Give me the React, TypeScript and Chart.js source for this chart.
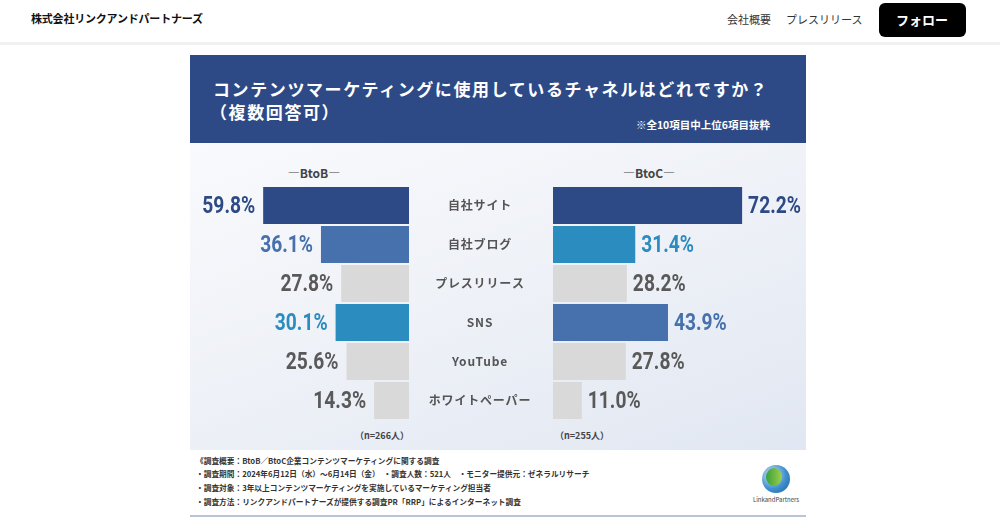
import React, { useEffect, useRef } from "react";
import { Chart, registerables } from "chart.js";
Chart.register(...registerables);

// ---- data ----
const categories = ["自社サイト", "自社ブログ", "プレスリリース", "SNS", "YouTube", "ホワイトペーパー"];
const btobValues = [59.8, 36.1, 27.8, 30.1, 25.6, 14.3];
const btocValues = [72.2, 31.4, 28.2, 43.9, 27.8, 11.0];
const btobSample = "（n=266人）";
const btocSample = "（n=255人）";

// ---- styles ----
const NAVY = "#2e4a86";
const MID = "#4671ac";
const TEAL = "#2b8cbf";
const GRAY = "#d9d9d9";
const DGRAY = "#595959";
const btobColors = [NAVY, MID, GRAY, TEAL, GRAY, GRAY];
const btobText = [NAVY, MID, DGRAY, TEAL, DGRAY, DGRAY];
const btocColors = [NAVY, TEAL, GRAY, MID, GRAY, GRAY];
const btocText = [NAVY, TEAL, DGRAY, MID, DGRAY, DGRAY];
const VALUE_FONT = 'bold 24px Roboto, "DejaVu Sans Condensed", sans-serif';
const VALUE_SQUEEZE = 0.8;
const JP = '"Noto Sans CJK JP", "Noto Sans", sans-serif';

function valueLabels(textColors: string[], side: "left" | "right") {
  return {
    id: "valueLabels",
    afterDatasetsDraw(chart: any) {
      const ctx = chart.ctx;
      const meta = chart.getDatasetMeta(0);
      const data = chart.data.datasets[0].data as number[];
      meta.data.forEach((bar: any, i: number) => {
        const text = data[i].toFixed(1) + "%";
        ctx.save();
        ctx.font = VALUE_FONT;
        ctx.textBaseline = "middle";
        ctx.fillStyle = textColors[i];
        if (side === "left") {
          ctx.translate(bar.x - 8, bar.y + 1);
          ctx.textAlign = "right";
        } else {
          ctx.translate(bar.x + 6, bar.y + 1);
          ctx.textAlign = "left";
        }
        ctx.scale(VALUE_SQUEEZE, 1);
        ctx.fillText(text, 0, 0);
        ctx.restore();
      });
    },
  };
}

const categoryLabels = {
  id: "categoryLabels",
  afterDraw(chart: any) {
    const ctx = chart.ctx;
    const y = chart.scales.y;
    ctx.save();
    ctx.font = `bold 12px ${JP}`;
    (ctx as any).letterSpacing = "0.8px";
    ctx.fillStyle = "#555555";
    ctx.textAlign = "center";
    ctx.textBaseline = "middle";
    categories.forEach((c, i) => {
      ctx.fillText(c, 60, y.getPixelForValue(i));
    });
    ctx.restore();
  },
};

function BarChart(props: {
  values: number[];
  colors: string[];
  textColors: string[];
  side: "left" | "right";
  left: number;
  width: number;
  max: number;
  padLeft: number;
  padRight: number;
}) {
  const ref = useRef<HTMLCanvasElement>(null);
  useEffect(() => {
    if (!ref.current) return;
    const plugins: any[] = [valueLabels(props.textColors, props.side)];
    if (props.side === "right") plugins.push(categoryLabels);
    const chart = new Chart(ref.current, {
      type: "bar",
      data: {
        labels: categories,
        datasets: [
          {
            data: props.values,
            backgroundColor: props.colors,
            borderWidth: 0,
            barPercentage: 0.95,
            categoryPercentage: 1,
          },
        ],
      },
      options: {
        indexAxis: "y",
        animation: false,
        responsive: false,
        maintainAspectRatio: false,
        layout: { padding: { left: props.padLeft, right: props.padRight, top: 10, bottom: 6 } },
        scales: {
          x: { display: false, min: 0, max: props.max, reverse: props.side === "left" },
          y: { display: false },
        },
        plugins: { legend: { display: false }, tooltip: { enabled: false } },
      },
      plugins,
    } as any);
    return () => chart.destroy();
  }, []);
  return (
    <canvas
      ref={ref}
      width={props.width}
      height={250}
      style={{ position: "absolute", left: props.left, top: 176, width: props.width, height: 250 }}
    />
  );
}

function T(p: {
  x: number;
  y: number;
  size: number;
  weight?: number;
  color?: string;
  align?: "left" | "center" | "right";
  ls?: number;
  children: React.ReactNode;
}) {
  const align = p.align || "left";
  const tx = align === "center" ? "-50%" : align === "right" ? "-100%" : "0";
  return (
    <div
      style={{
        position: "absolute",
        left: p.x,
        top: p.y,
        transform: `translate(${tx}, -50%)`,
        fontSize: p.size,
        fontWeight: p.weight ?? 400,
        color: p.color ?? "#222",
        letterSpacing: p.ls ?? 0,
        lineHeight: 1.2,
        whiteSpace: "nowrap",
        fontFamily: JP,
      }}
    >
      {p.children}
    </div>
  );
}

export default function App() {
  return (
    <div
      style={{
        position: "fixed",
        left: 0,
        top: 0,
        width: 1000,
        height: 527,
        background: "#ffffff",
        overflow: "hidden",
        fontFamily: JP,
      }}
    >
      {/* header */}
      <div style={{ position: "absolute", left: 0, top: 42, width: 1000, height: 3, background: "#f1f1f1" }} />
      <T x={31} y={19} size={11} weight={700} color="#111" ls={-0.2}>
        株式会社リンクアンドパートナーズ
      </T>
      <T x={727} y={20} size={11} color="#333">
        会社概要
      </T>
      <T x={786} y={20} size={11} color="#333">
        プレスリリース
      </T>
      <div
        style={{
          position: "absolute",
          left: 879,
          top: 3,
          width: 87,
          height: 34,
          background: "#000",
          borderRadius: 6,
        }}
      />
      <T x={922} y={20} size={13} weight={700} color="#fff" align="center">
        フォロー
      </T>

      {/* title band */}
      <div style={{ position: "absolute", left: 190, top: 55, width: 616, height: 88, background: NAVY }} />
      <T x={213} y={89} size={17} weight={700} color="#fff" ls={1.6}>
        コンテンツマーケティングに使用しているチャネルはどれですか？
      </T>
      <T x={210} y={112} size={17} weight={700} color="#fff" ls={1.6}>
        （複数回答可）
      </T>
      <T x={770} y={125} size={10.5} weight={700} color="#fff" align="right">
        ※全10項目中上位6項目抜粋
      </T>

      {/* chart area */}
      <div
        style={{
          position: "absolute",
          left: 190,
          top: 143,
          width: 616,
          height: 307,
          background: "linear-gradient(160deg, #f9fafd 0%, #eef1f7 50%, #e1e7f2 100%)",
        }}
      />
      <T x={314} y={173} size={12} weight={700} color="#444" align="center">
        ―BtoB―
      </T>
      <T x={649} y={173} size={12} weight={700} color="#444" align="center">
        ―BtoC―
      </T>
      <BarChart
        values={btobValues}
        colors={btobColors}
        textColors={btobText}
        side="left"
        left={190}
        width={230}
        max={85.7}
        padLeft={10}
        padRight={11}
      />
      <BarChart
        values={btocValues}
        colors={btocColors}
        textColors={btocText}
        side="right"
        left={420}
        width={386}
        max={94.3}
        padLeft={133}
        padRight={6}
      />
      <T x={409} y={436} size={9} weight={700} color="#444" align="right">
        {btobSample}
      </T>
      <T x={555} y={436} size={9} weight={700} color="#444">
        {btocSample}
      </T>

      {/* footer */}
      <T x={196} y={461} size={7.7} weight={700} color="#333">
        《調査概要：BtoB／BtoC企業コンテンツマーケティングに関する調査
      </T>
      <T x={196} y={474} size={7.7} weight={700} color="#333">
        ・調査期間：2024年6月12日（水）～6月14日（金）　・調査人数：521人　・モニター提供元：ゼネラルリサーチ
      </T>
      <T x={196} y={488} size={7.7} weight={700} color="#333">
        ・調査対象：3年以上コンテンツマーケティングを実施しているマーケティング担当者
      </T>
      <T x={196} y={502} size={7.7} weight={700} color="#333">
        ・調査方法：リンクアンドパートナーズが提供する調査PR「RRP」によるインターネット調査
      </T>
      <div style={{ position: "absolute", left: 190, top: 515, width: 616, height: 2, background: "#b9c5d4" }} />

      {/* logo */}
      <div
        style={{
          position: "absolute",
          left: 762,
          top: 465,
          width: 28,
          height: 28,
          borderRadius: "50%",
          background: "radial-gradient(circle at 35% 35%, #cfe7f5 0%, #3f8fcf 55%, #1c5f9e 100%)",
        }}
      />
      <div
        style={{
          position: "absolute",
          left: 766,
          top: 468,
          width: 16,
          height: 18,
          borderRadius: "50%",
          background: "linear-gradient(90deg, #3aa03c 0%, #9bd04a 100%)",
        }}
      />
      <T x={776} y={500} size={6} color="#444" align="center">
        LinkandPartners
      </T>
    </div>
  );
}
